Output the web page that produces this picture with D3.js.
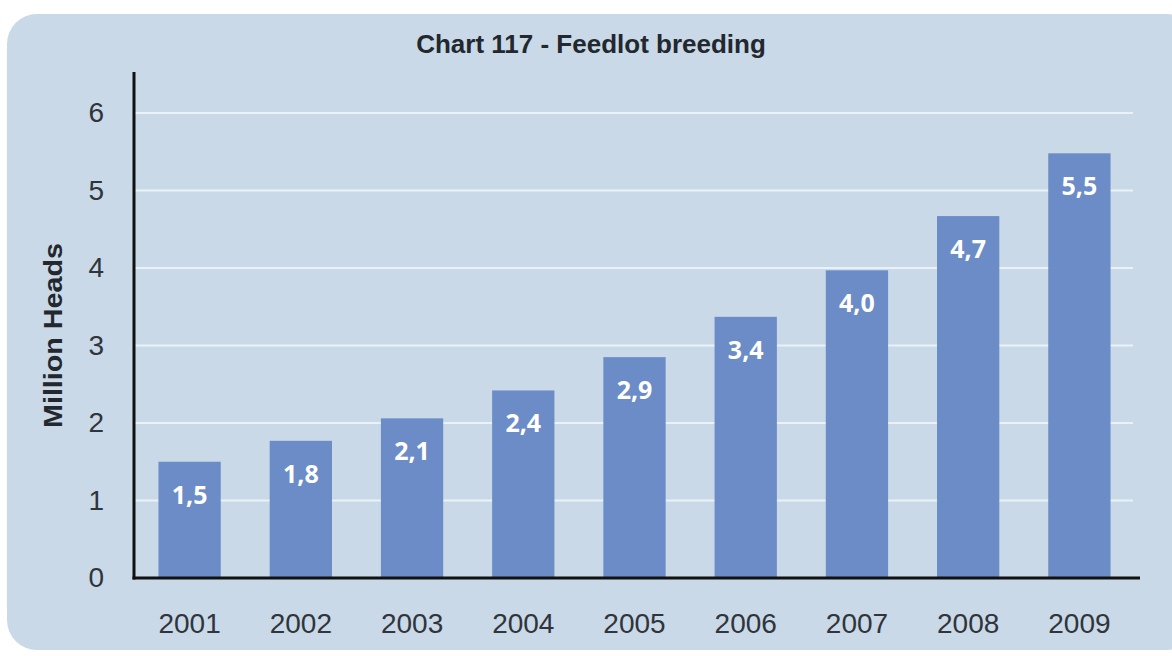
<!DOCTYPE html>
<html><head><meta charset="utf-8">
<script src="https://cdn.jsdelivr.net/npm/d3@7"></script>
<style>body{margin:0;background:#fff}svg{display:block}</style>
</head><body>
<script>
const categories = ["2001","2002","2003","2004","2005","2006","2007","2008","2009"];
const values = [1.50, 1.77, 2.06, 2.42, 2.85, 3.37, 3.97, 4.67, 5.48];
const labels = ["1,5","1,8","2,1","2,4","2,9","3,4","4,0","4,7","5,5"];
const yTicks = [0,1,2,3,4,5,6];
const title = "Chart 117 - Feedlot breeding";
const yTitle = "Million Heads";

(function () {
const W = 1172, H = 656;
const svg = d3.select("body").append("svg").attr("width", W).attr("height", H);

svg.append("rect").attr("x", 7).attr("y", 14).attr("width", 1190).attr("height", 636)
  .attr("rx", 30).attr("fill", "#c9d9e7");

const pLeft = 134, pTop = 72, pBottom = 578;
const x = d3.scaleBand().domain(categories).range([134, 1135]).paddingInner(0.44).paddingOuter(0.22);
const y = d3.scaleLinear().domain([0, 6]).range([pBottom, 113]);
const txt = "#30343b";

svg.append("g").selectAll("line").data(yTicks.filter(d => d > 0)).join("line")
  .attr("x1", pLeft).attr("x2", 1133).attr("y1", d => y(d)).attr("y2", d => y(d))
  .attr("stroke", "#eaf1f8").attr("stroke-width", 2);

svg.append("g").selectAll("rect").data(values).join("rect")
  .attr("x", (d, i) => x(categories[i])).attr("width", x.bandwidth())
  .attr("y", d => y(d)).attr("height", d => pBottom - y(d))
  .attr("fill", "#6b8cc7");

svg.append("g").selectAll("text").data(values).join("text")
  .attr("x", (d, i) => x(categories[i]) + x.bandwidth() / 2)
  .attr("y", d => y(d) + 42)
  .attr("text-anchor", "middle").attr("fill", "#ffffff")
  .attr("font-family", "'Open Sans', sans-serif").attr("font-weight", "bold").attr("font-size", 25)
  .text((d, i) => labels[i]);

const yAxis = d3.axisLeft(y).tickValues(yTicks).tickSize(0).tickPadding(30).tickFormat(d3.format("d"));
const gy = svg.append("g").attr("transform", `translate(${pLeft},0)`).call(yAxis);
gy.select(".domain").remove();
gy.selectAll("text").attr("font-family", "'Liberation Sans', Arial, sans-serif").attr("font-size", 28).attr("fill", txt);

const xAxis = d3.axisBottom(x).tickSize(0).tickPadding(35);
const gx = svg.append("g").attr("transform", `translate(0,${pBottom})`).call(xAxis);
gx.select(".domain").remove();
gx.selectAll("text").attr("font-family", "'Liberation Sans', Arial, sans-serif").attr("font-size", 28).attr("fill", txt);

svg.append("line").attr("x1", pLeft).attr("x2", pLeft).attr("y1", pTop).attr("y2", pBottom + 1.5)
  .attr("stroke", "#111").attr("stroke-width", 3);
svg.append("line").attr("x1", pLeft - 1.5).attr("x2", 1140).attr("y1", pBottom).attr("y2", pBottom)
  .attr("stroke", "#111").attr("stroke-width", 3);

svg.append("text").attr("x", 591).attr("y", 53).attr("text-anchor", "middle")
  .attr("font-family", "'Liberation Sans', Arial, sans-serif").attr("font-weight", "bold").attr("font-size", 26)
  .attr("fill", "#23272e").text(title);

svg.append("text").attr("transform", "translate(62,335.5) rotate(-90)").attr("text-anchor", "middle")
  .attr("font-family", "'Liberation Sans', Arial, sans-serif").attr("font-weight", "bold").attr("font-size", 25)
  .attr("textLength", 185).attr("lengthAdjust", "spacingAndGlyphs")
  .attr("fill", "#23272e").text(yTitle);
})();
</script>
</body></html>
